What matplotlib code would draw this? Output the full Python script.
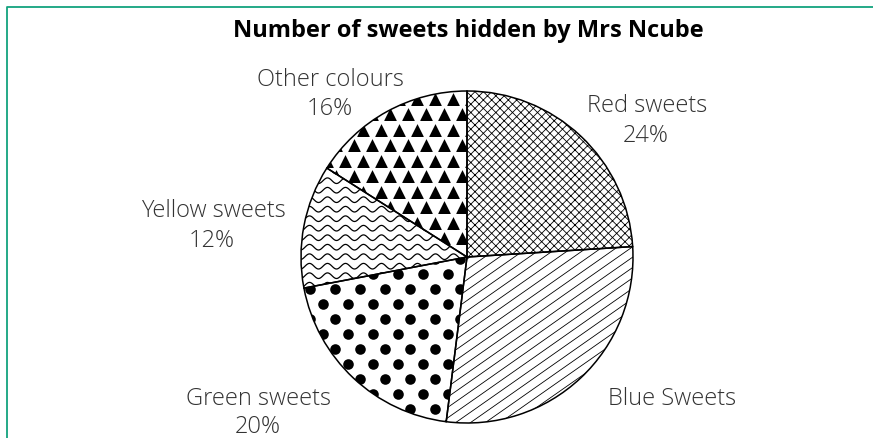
import numpy as np
import matplotlib
matplotlib.use("Agg")
import matplotlib.pyplot as plt
from matplotlib.collections import LineCollection
from matplotlib.lines import Line2D

plt.rcParams['font.family'] = ['Open Sans', 'DejaVu Sans']
plt.rcParams['hatch.linewidth'] = 0.6

# share of sweets per colour, clockwise from 12 o'clock
categories = ['Red sweets', 'Blue Sweets', 'Green sweets', 'Yellow sweets', 'Other colours']
shares = [24, 28, 20, 12, 16]
show_pct = [True, False, True, True, True]
title = 'Number of sweets hidden by Mrs Ncube'

W, H = 873, 439
CX, CY, R = 467, 258, 166   # pie centre and radius in pixels


def px(x, y):
    # pixel position (from top-left) -> data units where the pie has radius 1
    return (x - CX) / R, (CY - y) / R


def set_view():
    ax.set_xlim(-CX / R, (W - CX) / R)
    ax.set_ylim(-(H - CY) / R, CY / R)
    ax.set_aspect('auto')


fig = plt.figure(figsize=(W / 100, H / 100), dpi=100)
ax = fig.add_axes([0, 0, 1, 1])
ax.axis('off')

wedges, _ = ax.pie(shares, startangle=90, counterclock=False, radius=1,
                   wedgeprops=dict(facecolor='white', edgecolor='black', linewidth=0))
set_view()
red, blue, green, yellow, other = wedges

# red: fine cross hatch
red.set_hatch('xxxx')
red.set_edgecolor('black')

# blue: sloping parallel lines
ang = np.deg2rad(35)
step = 8.5 / R / np.cos(ang)
xs = np.array([-1.2, 1.2])
segs = [np.column_stack([xs, np.tan(ang) * xs + c]) for c in np.arange(-2.2, 2.2, step)]
lc = LineCollection(segs, colors='black', linewidths=0.6, zorder=2)
ax.add_collection(lc)
lc.set_clip_path(blue)

# yellow: wavy lines
wx = np.linspace(-1.2, 1.2, 600)
waves = [np.column_stack([wx, y0 + 2.8 / R * np.sin(2 * np.pi * wx / (18 / R))])
         for y0 in np.arange(-1.2, 1.2, 9.5 / R)]
wc = LineCollection(waves, colors='black', linewidths=0.9, zorder=2)
ax.add_collection(wc)
wc.set_clip_path(yellow)

# green: staggered filled dots
dots = []
for j, yp in enumerate(np.arange(260, 440, 15)):
    off = 0 if j % 2 == 0 else 12.5
    for xp in np.arange(285 + off, 480, 25):
        dots.append(px(xp, yp))
dots = np.array(dots)
sc = ax.scatter(dots[:, 0], dots[:, 1], s=58, c='black', marker='o', linewidths=0, zorder=2)
sc.set_clip_path(green)

# other colours: staggered filled triangles
tris = []
for j, yp in enumerate(np.arange(84, 270, 15.5)):
    off = 0 if j % 2 == 0 else 9
    for xp in np.arange(300 + off, 480, 18):
        tris.append(px(xp, yp))
tris = np.array(tris)
tc = ax.scatter(tris[:, 0], tris[:, 1], s=85, c='black', marker='^', linewidths=0, zorder=2)
tc.set_clip_path(other)

# outlines on top of the patterns
outline, _ = ax.pie(shares, startangle=90, counterclock=False, radius=1,
                    wedgeprops=dict(facecolor='none', edgecolor='black', linewidth=1.1))
for w in outline:
    w.set_zorder(3)
set_view()

# label baselines (pixels): name line, percentage line
label_pos = [((647, 112), (646, 142)),
             ((672, 405), None),
             ((258, 405), (258, 433)),
             ((213, 217), (212, 247)),
             ((330, 86), (330, 115))]
for name, pct, show, (p1, p2) in zip(categories, shares, show_pct, label_pos):
    ax.text(*px(*p1), name, ha='center', va='baseline', fontsize=17,
            fontweight='light', color='#333333')
    if show:
        ax.text(*px(*p2), f'{pct}%', ha='center', va='baseline', fontsize=17,
                fontweight='light', color='#333333')

fig.text(468 / W, 1 - 37 / H, title, ha='center', va='baseline', fontsize=17,
         fontweight='bold', color='black')

# green frame along the left and top edges
fig.add_artist(Line2D([6.5 / W, 6.5 / W, 1.0], [0.0, 1 - 7.5 / H, 1 - 7.5 / H],
                      transform=fig.transFigure, color='#13a37e', linewidth=1.3))

fig.savefig('out.png', dpi=100)
